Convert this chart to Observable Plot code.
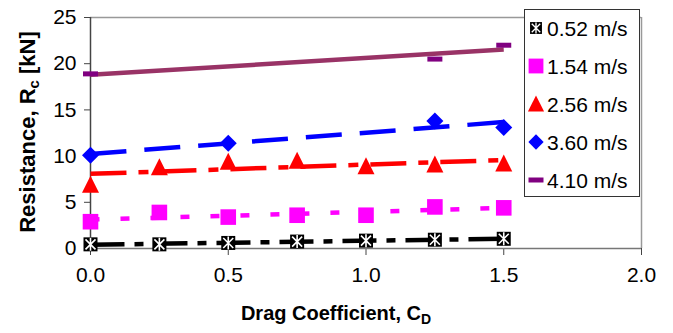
<!DOCTYPE html>
<html>
<head>
<meta charset="utf-8">
<script src="https://cdn.jsdelivr.net/npm/d3@7"></script>
<script src="https://cdn.jsdelivr.net/npm/@observablehq/plot@0.6"></script>
<style>
  html, body { margin: 0; padding: 0; background: #fff; }
  #chart { position: relative; width: 673px; height: 333px; }
</style>
</head>
<body>
<div id="chart"></div>
<script>
// ---- data ----
const seriesNames = ["0.52 m/s", "1.54 m/s", "2.56 m/s", "3.60 m/s", "4.10 m/s"];
const cdFull = [0, 0.25, 0.5, 0.75, 1.0, 1.25, 1.5];
const r052 = [0.45, 0.45, 0.6, 0.75, 0.85, 0.95, 1.05];
const r154 = [2.9, 3.9, 3.4, 3.6, 3.6, 4.5, 4.4];
const r256 = [6.9, 8.8, 9.4, 9.5, 8.9, 9.1, 9.2];
const cd360 = [0, 0.5, 1.25, 1.5];
const r360 = [10.1, 11.4, 13.8, 13.1];
const cd410 = [0, 1.25, 1.5];
const r410 = [18.9, 20.5, 22.0];
const xTicks = [0, 0.5, 1.0, 1.5, 2.0];
const yTicks = [0, 5, 10, 15, 20, 25];

const toRows = (xs, ys) => xs.map((x, i) => ({x, y: ys[i]}));
const rows = [
  toRows(cdFull, r052),
  toRows(cdFull, r154),
  toRows(cdFull, r256),
  toRows(cd360, r360),
  toRows(cd410, r410)
];

// ---- custom symbols ----
const sym = (fn) => ({draw(ctx) { fn(ctx); }});
const squareBlack = sym(c => c.rect(-7, -7, 14, 14));
const starWhite = sym(c => { c.moveTo(-5, -5); c.lineTo(5, 5); c.moveTo(-5, 5); c.lineTo(5, -5); c.moveTo(0, -6.5); c.lineTo(0, 6.5); });
const squareMag = sym(c => c.rect(-7.8, -7.8, 15.6, 15.6));
const triangle = sym(c => { c.moveTo(0, -9); c.lineTo(8.5, 8); c.lineTo(-8.5, 8); c.closePath(); });
const diamond = sym(c => { c.moveTo(0, -8.5); c.lineTo(8.5, 0); c.lineTo(0, 8.5); c.lineTo(-8.5, 0); c.closePath(); });
const dash = sym(c => c.rect(-7.5, -2.5, 15, 5));

const lineStyles = [
  {stroke: "#000000", dash: "34,10,9,10"},
  {stroke: "#FF00FF", dash: "9,21"},
  {stroke: "#FF0000", dash: "36,12,10,12"},
  {stroke: "#0000FF", dash: "36,18"},
  {stroke: "#993366", dash: null}
];

const font = "'Liberation Sans', Arial, sans-serif";

const marks = [
  Plot.ruleY([25], {stroke: "#999", strokeWidth: 1.5}),
  Plot.ruleX([2], {stroke: "#999", strokeWidth: 1.5}),
  Plot.axisY({ticks: yTicks, tickSize: 6, tickPadding: 8, label: null, stroke: "#444", fill: "#000"}),
  Plot.axisX({ticks: xTicks, tickFormat: d3.format(".1f"), tickSize: 7, tickPadding: 12, label: null, stroke: "#444", fill: "#000"}),
  Plot.ruleX([0], {stroke: "#444", strokeWidth: 1.5}),
  Plot.ruleY([0], {stroke: "#777", strokeWidth: 1.5})
];
rows.forEach((data, i) => {
  const s = lineStyles[i];
  marks.push(Plot.linearRegressionY(data, {
    x: "x", y: "y", ci: 0, stroke: s.stroke, strokeWidth: 4.5,
    strokeDasharray: s.dash || undefined, strokeLinecap: "butt"
  }));
});
marks.push(
  Plot.dot(rows[0], {x: "x", y: "y", symbol: squareBlack, fill: "#000", stroke: "none"}),
  Plot.dot(rows[0], {x: "x", y: "y", symbol: starWhite, stroke: "#fff", strokeWidth: 1.6, fill: "none"}),
  Plot.dot(rows[1], {x: "x", y: "y", symbol: squareMag, fill: "#FF00FF", stroke: "none"}),
  Plot.dot(rows[2], {x: "x", y: "y", symbol: triangle, fill: "#FF0000", stroke: "none"}),
  Plot.dot(rows[3], {x: "x", y: "y", symbol: diamond, fill: "#0000FF", stroke: "none"}),
  Plot.dot(rows[4], {x: "x", y: "y", symbol: dash, fill: "#800080", stroke: "none"})
);

const chart = Plot.plot({
  width: 673,
  height: 333,
  marginLeft: 90,
  marginRight: 32,
  marginTop: 17,
  marginBottom: 85,
  style: {fontFamily: font, fontSize: "21px", color: "#000", background: "#fff"},
  x: {domain: [0, 2]},
  y: {domain: [0, 25]},
  marks
});

const svg = d3.select(chart);
// Axis titles
const yt = svg.append("text")
  .attr("transform", "translate(35,132) rotate(-90)")
  .attr("text-anchor", "middle")
  .attr("font-family", font).attr("font-weight", "bold").attr("font-size", 22).attr("fill", "#000");
yt.append("tspan").text("Resistance, R");
yt.append("tspan").attr("font-size", 15).attr("dy", 4).text("c");
yt.append("tspan").attr("dy", -4).text(" [kN]");

const xt = svg.append("text")
  .attr("x", 336).attr("y", 320)
  .attr("text-anchor", "middle")
  .attr("font-family", font).attr("font-weight", "bold").attr("font-size", 20).attr("fill", "#000");
xt.append("tspan").text("Drag Coefficient, C");
xt.append("tspan").attr("font-size", 14).attr("dy", 4).text("D");

// Legend
const lg = svg.append("g").attr("text-anchor", "start");
lg.append("rect").attr("x", 524.5).attr("y", 9.5).attr("width", 115).attr("height", 187)
  .attr("fill", "#fff").attr("stroke", "#333").attr("stroke-width", 1);
const legendSyms = [
  [{s: squareBlack, fill: "#000", scale: 0.85}, {s: starWhite, stroke: "#fff", scale: 0.85}],
  [{s: squareMag, fill: "#FF00FF", scale: 0.95}],
  [{s: triangle, fill: "#FF0000", scale: 0.95}],
  [{s: diamond, fill: "#0000FF", scale: 0.9}],
  [{s: dash, fill: "#800080", scale: 1}]
];
seriesNames.forEach((name, i) => {
  const cy = 28 + i * 38;
  legendSyms[i].forEach(m => {
    const p = d3.path();
    m.s.draw(p);
    lg.append("path").attr("d", p.toString())
      .attr("transform", `translate(536,${cy}) scale(${m.scale})`)
      .attr("fill", m.fill || "none")
      .attr("stroke", m.stroke || "none")
      .attr("stroke-width", m.stroke ? 1.6 : 0);
  });
  lg.append("text").attr("x", 547).attr("y", cy).attr("dy", "0.36em")
    .attr("text-anchor", "start")
    .attr("font-family", font).attr("font-size", 21).attr("fill", "#000").text(name);
});

document.getElementById("chart").appendChild(chart);
</script>
</body>
</html>
